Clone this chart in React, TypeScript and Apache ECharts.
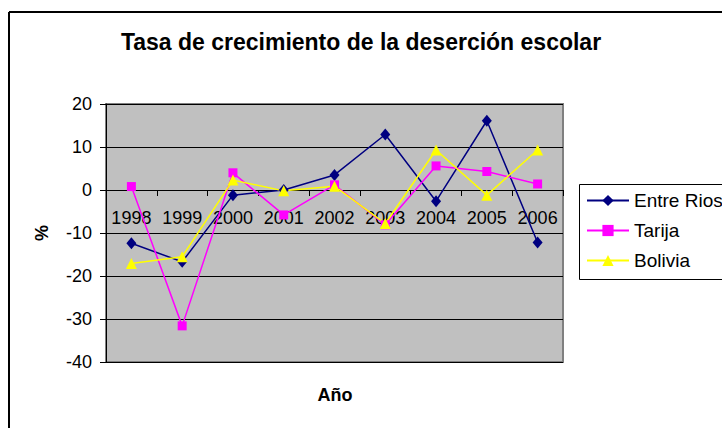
import React, { useEffect, useRef } from "react";
import * as echarts from "echarts";

const categories = ["1998", "1999", "2000", "2001", "2002", "2003", "2004", "2005", "2006"];
const entreRios = [-12.4, -16.7, -1.2, 0, 3.5, 12.9, -2.6, 16.1, -12.2];
const tarija = [0.8, -31.6, 4.0, -5.8, 1.2, -8.1, 5.6, 4.3, 1.4];
const bolivia = [-17.1, -15.5, 2.3, -0.2, 0.9, -7.8, 9.3, -1.2, 9.3];
const seriesNames = ["Entre Rios", "Tarija", "Bolivia"];
const title = "Tasa de crecimiento de la deserción escolar";
const xName = "Año";
const yName = "%";

const FONT = "Liberation Sans, Arial, sans-serif";

export default function App() {
  const ref = useRef<HTMLDivElement>(null);
  useEffect(() => {
    if (!ref.current) return;
    const chart = echarts.init(ref.current, null, { renderer: "svg" });
    chart.setOption({
      animation: false,
      backgroundColor: "#ffffff",
      textStyle: { fontFamily: FONT },
      grid: {
        left: 106,
        top: 104,
        width: 457,
        height: 258,
        show: true,
        backgroundColor: "#C0C0C0",
        borderColor: "#808080",
        borderWidth: 2,
        containLabel: false,
      },
      legend: {
        orient: "vertical",
        left: 586,
        top: 191,
        padding: 0,
        itemWidth: 42,
        itemHeight: 14,
        itemGap: 11,
        data: seriesNames,
        textStyle: { fontSize: 19, color: "#000", fontFamily: FONT },
      },
      xAxis: {
        type: "category",
        data: categories,
        boundaryGap: true,
        position: "bottom",
        offset: -172,
        axisLine: { onZero: false, lineStyle: { color: "#000", width: 1 } },
        axisTick: { show: true, length: 6, lineStyle: { color: "#000" } },
        axisLabel: { fontSize: 18, color: "#000", margin: 19, interval: 0, fontFamily: FONT },
        splitLine: { show: false },
      },
      yAxis: {
        type: "value",
        min: -40,
        max: 20,
        interval: 10,
        axisLine: { show: true, lineStyle: { color: "#000", width: 1 } },
        axisTick: { show: true, length: 6, lineStyle: { color: "#000" } },
        axisLabel: { fontSize: 18, color: "#000", margin: 14, fontFamily: FONT },
        splitLine: { show: true, lineStyle: { color: "#000", width: 1 } },
      },
      series: [
        {
          name: seriesNames[0],
          type: "line",
          data: entreRios,
          symbol: "diamond",
          symbolSize: [10, 12],
          lineStyle: { color: "#000080", width: 1.5 },
          itemStyle: { color: "#000080" },
        },
        {
          name: seriesNames[1],
          type: "line",
          data: tarija,
          symbol: "rect",
          symbolSize: 9,
          lineStyle: { color: "#FF00FF", width: 1.5 },
          itemStyle: { color: "#FF00FF" },
        },
        {
          name: seriesNames[2],
          type: "line",
          data: bolivia,
          symbol: "triangle",
          symbolSize: 11,
          lineStyle: { color: "#FFFF00", width: 1.5 },
          itemStyle: { color: "#FFFF00" },
        },
      ],
      graphic: [
        {
          type: "rect",
          z: -1,
          shape: { x: 579.5, y: 184.5, width: 200, height: 95 },
          style: { fill: "#fff", stroke: "#000", lineWidth: 1 },
        },
        {
          type: "line",
          shape: { x1: 9, y1: 12, x2: 730, y2: 12 },
          style: { stroke: "#000", lineWidth: 2 },
        },
        {
          type: "line",
          shape: { x1: 9, y1: 12, x2: 9, y2: 440 },
          style: { stroke: "#000", lineWidth: 2 },
        },
        {
          type: "text",
          x: 361,
          y: 42,
          style: {
            text: title,
            font: `bold 23px ${FONT}`,
            fill: "#000",
            textAlign: "center",
            textVerticalAlign: "middle",
          },
        },
        {
          type: "text",
          x: 335,
          y: 395,
          style: {
            text: xName,
            font: `bold 18px ${FONT}`,
            fill: "#000",
            textAlign: "center",
            textVerticalAlign: "middle",
          },
        },
        {
          type: "text",
          x: 42,
          y: 233,
          rotation: Math.PI / 2,
          style: {
            text: yName,
            font: `bold 18px ${FONT}`,
            fill: "#000",
            textAlign: "center",
            textVerticalAlign: "middle",
          },
        },
      ],
    });
    return () => chart.dispose();
  }, []);
  return (
    <div
      ref={ref}
      style={{ position: "fixed", left: 0, top: 0, width: 722, height: 428 }}
    />
  );
}
